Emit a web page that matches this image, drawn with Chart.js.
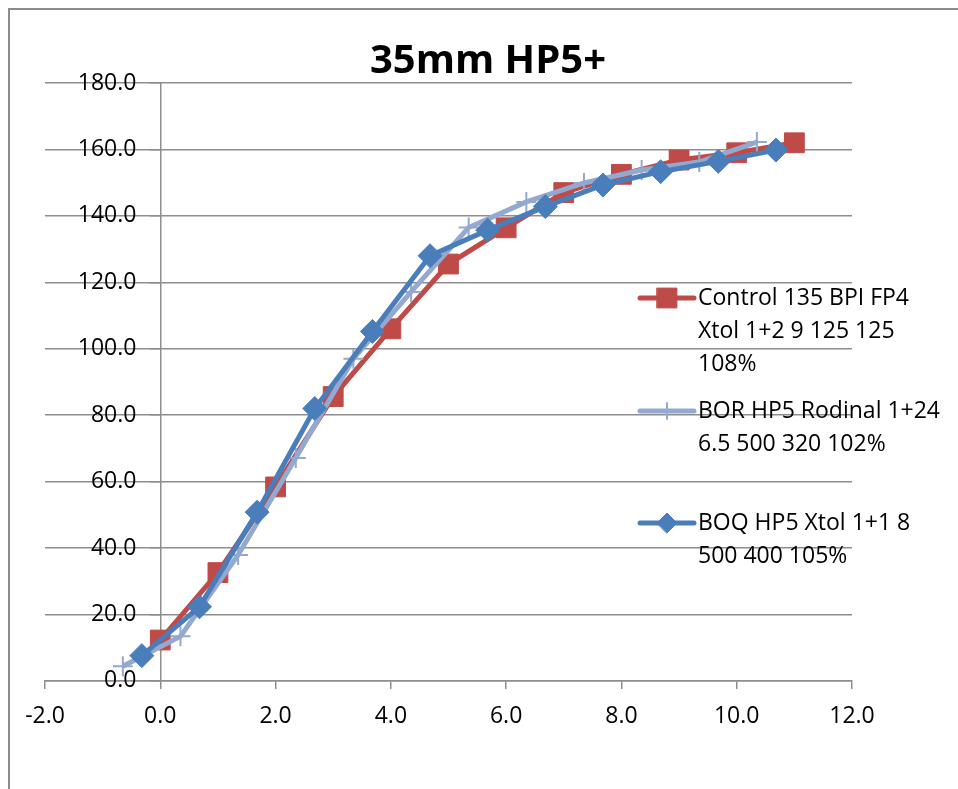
<!DOCTYPE html>
<html>
<head>
<meta charset="utf-8">
<title>35mm HP5+</title>
<script src="https://cdn.jsdelivr.net/npm/chart.js@4.4.0/dist/chart.umd.min.js"></script>
<style>
  html, body { margin: 0; padding: 0; background: #fff; overflow: hidden; }
  #frame { position: absolute; left: 8px; top: 8px; width: 1000px; height: 900px;
           border-left: 2px solid #8c8c8c; border-top: 2px solid #8c8c8c; }
  #wrap { position: absolute; left: 10px; top: 10px; width: 960px; height: 779px; }
</style>
</head>
<body>
<div id="frame"></div>
<div id="wrap"><canvas id="hp5Chart"></canvas></div>
<script>
// values (x = exposure step, y = density reading)
const controlX = [0, 1, 2, 3, 4, 5, 6, 7, 8, 9, 10, 11];
const controlY = [12.3, 32.6, 58.4, 85.6, 106.0, 125.5, 136.4, 147.0, 152.5, 156.8, 159.0, 162.0];

const borX = [-0.65, 0.35, 1.35, 2.35, 3.35, 4.35, 5.35, 6.35, 7.35, 8.35, 9.35, 10.35];
const borY = [4.4, 13.4, 37.9, 67.1, 97.0, 117.1, 136.5, 144.2, 149.9, 153.8, 156.2, 162.2];

const boqX = [-0.32, 0.68, 1.68, 2.68, 3.68, 4.68, 5.68, 6.68, 7.68, 8.68, 9.68, 10.68];
const boqY = [7.6, 22.3, 50.8, 82.0, 105.2, 128.0, 135.7, 142.8, 149.3, 153.3, 156.4, 159.8];

const legendLines = [
    ['Control 135 BPI FP4', 'Xtol 1+2 9 125 125', '108%'],
    ['BOR HP5 Rodinal 1+24', '6.5 500 320 102%'],
    ['BOQ HP5 Xtol 1+1 8', '500 400 105%']
];

const COLORS = {
    red: '#BE4B48',
    lightBlue: '#93A9CF',
    blue: '#4A7EBB',
    grid: '#8e8e8e'
};

function toPoints(xs, ys) {
    return xs.map(function (x, i) { return {x: x, y: ys[i]}; });
}

// Excel-style legend: wrapped text to the right of the curves
const sideLegend = {
    id: 'sideLegend',
    afterDraw(chart) {
        const ctx = chart.ctx;
        const rows = [288, 401, 513];
        const marks = [14, 8, 10];
        chart.data.datasets.forEach(function (ds, i) {
            const y = rows[i];
            ctx.save();
            ctx.strokeStyle = ds.borderColor;
            ctx.lineWidth = 5;
            ctx.lineCap = 'round';
            ctx.beginPath();
            ctx.moveTo(630, y);
            ctx.lineTo(684, y);
            ctx.stroke();
            ctx.fillStyle = ds.pointBackgroundColor;
            ctx.strokeStyle = ds.pointBorderColor;
            ctx.lineWidth = ds.pointBorderWidth;
            Chart.helpers.drawPoint(ctx, {
                pointStyle: ds.pointStyle,
                radius: marks[i],
                rotation: 0,
                borderWidth: ds.pointBorderWidth
            }, 657, y);
            ctx.fillStyle = '#000';
            ctx.font = '23px "Open Sans"';
            ctx.textBaseline = 'middle';
            ctx.textAlign = 'left';
            legendLines[i].forEach(function (t, j) {
                ctx.fillText(t, 688, y + j * 33);
            });
            ctx.restore();
        });
    }
};

const ctx = document.getElementById('hp5Chart').getContext('2d');
const hp5Chart = new Chart(ctx, {
    type: 'scatter',
    data: {
        datasets: [
            {
                label: legendLines[0].join(' '),
                data: toPoints(controlX, controlY),
                showLine: true,
                borderColor: COLORS.red,
                borderWidth: 5,
                pointStyle: 'rect',
                pointRadius: 14,
                pointBackgroundColor: COLORS.red,
                pointBorderColor: COLORS.red,
                pointBorderWidth: 1,
                order: 3,
                clip: false
            },
            {
                label: legendLines[1].join(' '),
                data: toPoints(borX, borY),
                showLine: true,
                borderColor: COLORS.lightBlue,
                borderWidth: 5,
                pointStyle: 'cross',
                pointRadius: 10,
                pointBackgroundColor: COLORS.lightBlue,
                pointBorderColor: COLORS.lightBlue,
                pointBorderWidth: 2,
                order: 2,
                clip: false
            },
            {
                label: legendLines[2].join(' '),
                data: toPoints(boqX, boqY),
                showLine: true,
                borderColor: COLORS.blue,
                borderWidth: 5,
                pointStyle: 'rectRot',
                pointRadius: 12,
                pointBackgroundColor: COLORS.blue,
                pointBorderColor: COLORS.blue,
                pointBorderWidth: 1,
                order: 1,
                clip: false
            }
        ]
    },
    options: {
        responsive: true,
        maintainAspectRatio: false,
        animation: false,
        events: [],
        layout: {
            padding: {left: 35, right: 39, top: 0, bottom: 45}
        },
        scales: {
            x: {
                type: 'linear',
                position: 'bottom',
                min: -2,
                max: 12,
                ticks: {
                    stepSize: 2,
                    padding: 11,
                    color: '#000',
                    // tall line box pushes the labels further below the axis
                    font: {family: 'Open Sans', size: 23, lineHeight: 1.44},
                    callback: function (v) { return v.toFixed(1); }
                },
                grid: {
                    drawOnChartArea: false,
                    drawTicks: true,
                    tickLength: 8,
                    color: COLORS.grid,
                    lineWidth: 1.5
                },
                border: {display: true, color: COLORS.grid, width: 1.5}
            },
            y: {
                type: 'linear',
                position: {x: 0},
                min: 0,
                max: 180,
                ticks: {
                    stepSize: 20,
                    color: '#000',
                    font: {family: 'Open Sans', size: 23},
                    // axis sits at x = 0, keep labels clear of it
                    callback: function (v) { return v.toFixed(1) + '    '; }
                },
                grid: {
                    drawTicks: true,
                    tickLength: 10,
                    color: COLORS.grid,
                    lineWidth: 1.5
                },
                border: {display: true, color: COLORS.grid, width: 1.5}
            },
            // empty box on the right, reserves room for the legend
            legendRoom: {
                type: 'linear',
                position: 'right',
                ticks: {display: false},
                grid: {display: false},
                border: {display: false},
                afterFit: function (scale) { scale.width = 79; }
            }
        },
        plugins: {
            legend: {display: false},
            tooltip: {enabled: false},
            title: {
                display: true,
                text: '35mm HP5+',
                color: '#000',
                font: {family: 'Open Sans', size: 40, weight: 'bold'},
                padding: {top: 28, bottom: -3}
            }
        }
    },
    plugins: [sideLegend]
});
</script>
</body>
</html>
